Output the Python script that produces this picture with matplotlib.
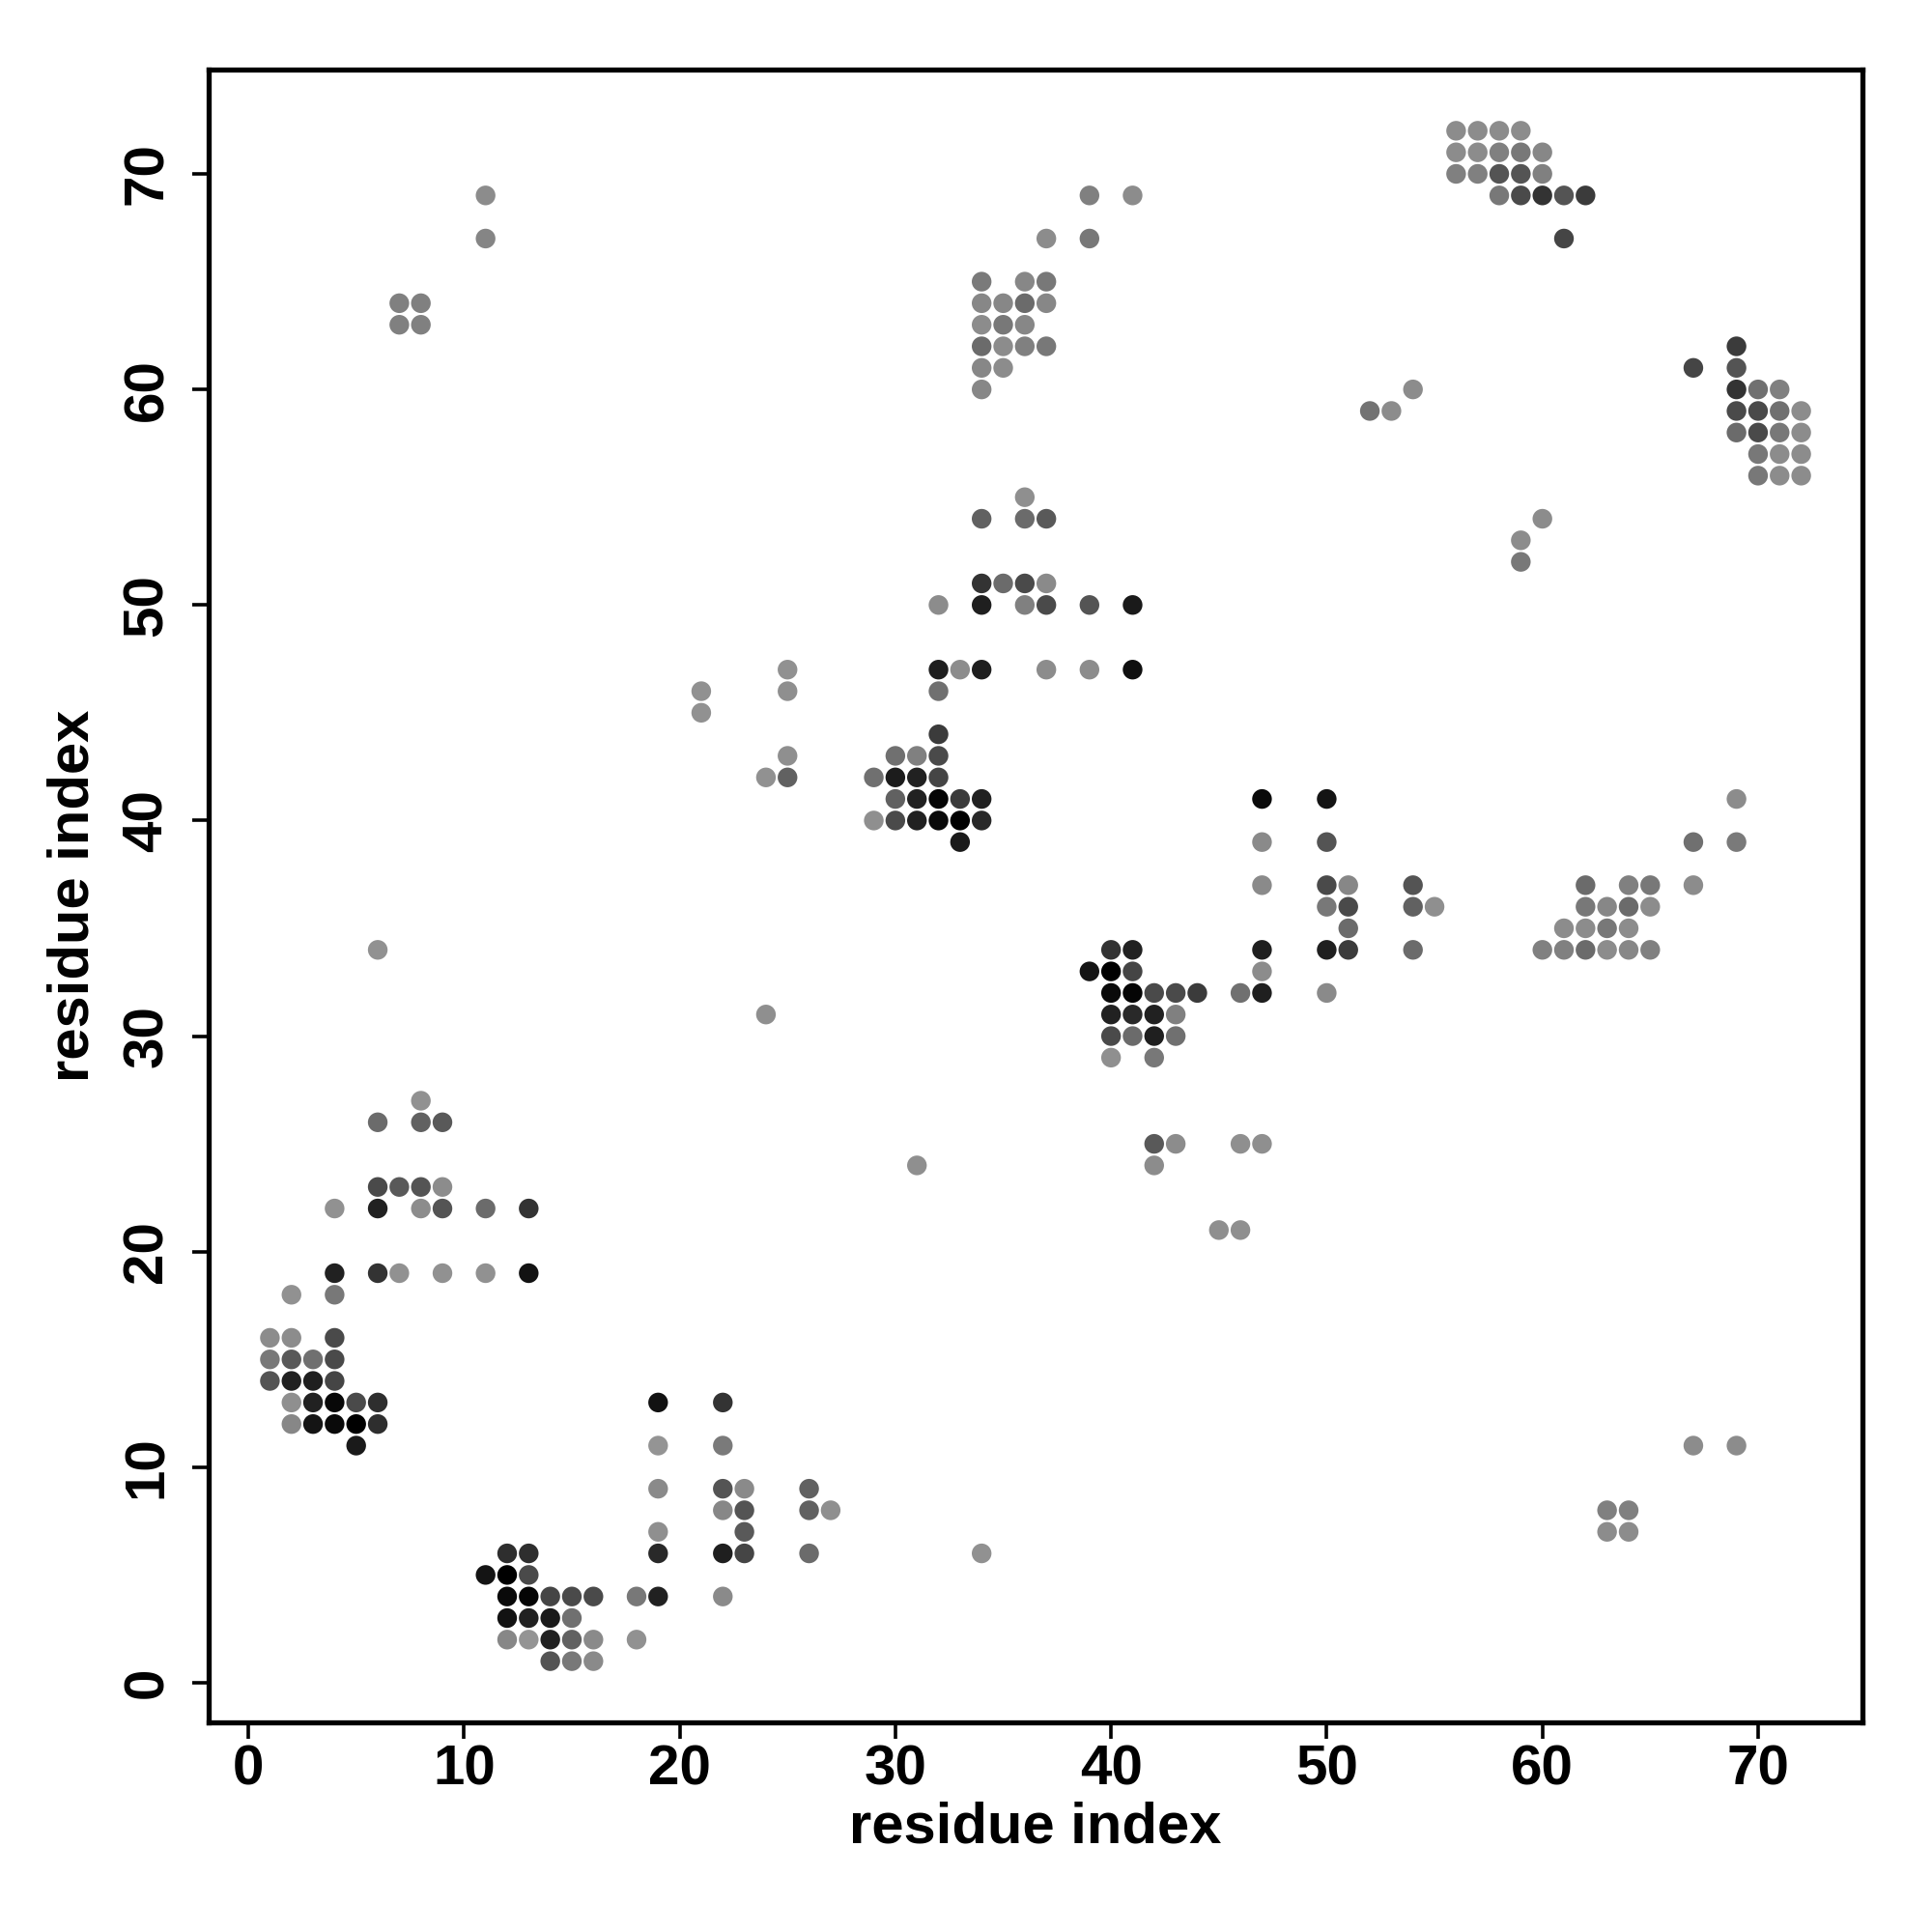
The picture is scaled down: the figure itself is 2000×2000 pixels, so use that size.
import matplotlib
matplotlib.use("Agg")
import matplotlib.pyplot as plt

# residue i (x), residue j (y), grey level of the dot (0 = black, 1 = white)
res_i = [
    2, 4,
    4, 6, 7, 9, 11, 13,
    1, 2, 4,
    1, 2, 3, 4,
    1, 2, 3, 4,
    2, 3, 4, 5, 6,
    2, 3, 4, 5, 6,
    5,
    6, 8,
    6, 8, 9,
    6, 7, 8, 9,
    4, 6, 8, 9, 11, 13,
    7, 8, 7, 8,
    11, 11,
    12, 13,
    11, 12, 13,
    12, 13, 14, 15, 16,
    12, 13, 14, 15,
    12, 13, 14, 15, 16,
    14, 15, 16,
    19, 22,
    19, 22,
    19, 22, 23, 26,
    22, 23, 26, 27,
    19, 23,
    19, 22, 23, 26,
    18, 19, 22,
    18,
    34, 31, 24,
    21, 21,
    25, 25, 25, 24, 25,
    32, 33, 34, 37, 39, 41,
    32,
    32,
    30, 31, 32,
    29, 30, 31, 32,
    30, 31, 32, 33, 34,
    29, 30, 31, 32, 33, 34,
    33,
    36,
    34, 36, 37,
    34, 35, 36, 37,
    32, 34, 36, 37, 39, 41,
    39, 41,
    37, 39,
    34, 36, 37,
    34, 35, 36, 37,
    34, 35, 36,
    34, 35, 36, 37,
    34, 35,
    34,
    40, 41,
    39, 40, 41,
    40, 41, 42, 43, 44, 46, 47,
    40, 41, 42, 43,
    40, 41, 42, 43,
    40, 42,
    42, 43, 46, 47,
    42,
    45, 46,
    47, 50,
    47, 50,
    47, 50, 51, 54,
    50, 51, 54, 55,
    51,
    47, 50, 51, 54,
    47,
    50,
    52, 53, 54,
    59, 59, 60,
    69,
    67, 69,
    62, 64, 65, 67,
    62, 63, 64, 65,
    61, 62, 63, 64,
    60, 61, 62, 63, 64, 65,
    67, 69,
    63, 64, 63, 64,
    56, 57, 58, 59,
    56, 57, 58, 59, 60,
    56, 57, 58, 59, 60,
    58, 59, 60, 61, 62,
    61,
    69,
    67, 69,
    69, 70, 71,
    69, 70, 71, 72,
    69, 70, 71, 72,
    70, 71, 72,
    70, 71, 72,
]

res_j = [
    18, 18,
    19, 19, 19, 19, 19, 19,
    16, 16, 16,
    15, 15, 15, 15,
    14, 14, 14, 14,
    13, 13, 13, 13, 13,
    12, 12, 12, 12, 12,
    11,
    34, 27,
    26, 26, 26,
    23, 23, 23, 23,
    22, 22, 22, 22, 22, 22,
    64, 64, 63, 63,
    69, 67,
    6, 6,
    5, 5, 5,
    4, 4, 4, 4, 4,
    3, 3, 3, 3,
    2, 2, 2, 2, 2,
    1, 1, 1,
    13, 13,
    11, 11,
    9, 9, 9, 9,
    8, 8, 8, 8,
    7, 7,
    6, 6, 6, 6,
    4, 4, 4,
    2,
    6, 24, 31,
    46, 45,
    47, 46, 43, 42, 42,
    47, 47, 47, 47, 47, 47,
    46,
    44,
    43, 43, 43,
    42, 42, 42, 42,
    41, 41, 41, 41, 41,
    40, 40, 40, 40, 40, 40,
    39,
    55,
    54, 54, 54,
    51, 51, 51, 51,
    50, 50, 50, 50, 50, 50,
    69, 69,
    67, 67,
    65, 65, 65,
    64, 64, 64, 64,
    63, 63, 63,
    62, 62, 62, 62,
    61, 61,
    60,
    34, 34,
    33, 33, 33,
    32, 32, 32, 32, 32, 32, 32,
    31, 31, 31, 31,
    30, 30, 30, 30,
    29, 29,
    25, 25, 25, 25,
    24,
    21, 21,
    41, 41,
    39, 39,
    37, 37, 37, 37,
    36, 36, 36, 36,
    35,
    34, 34, 34, 34,
    33,
    32,
    59, 59, 60,
    53, 52, 54,
    41,
    39, 39,
    37, 37, 37, 37,
    36, 36, 36, 36,
    35, 35, 35, 35,
    34, 34, 34, 34, 34, 34,
    11, 11,
    8, 8, 7, 7,
    72, 72, 72, 72,
    71, 71, 71, 71, 71,
    70, 70, 70, 70, 70,
    69, 69, 69, 69, 69,
    67,
    62,
    61, 61,
    60, 60, 60,
    59, 59, 59, 59,
    58, 58, 58, 58,
    57, 57, 57,
    56, 56, 56,
]

gray = [
    .57, .47,
    .13, .20, .57, .57, .57, .07,
    .55, .55, .29,
    .47, .35, .44, .29,
    .33, .13, .12, .27,
    .56, .13, .03, .29, .18,
    .53, .08, .04, .00, .18,
    .10,
    .57, .57,
    .42, .38, .35,
    .29, .35, .33, .55,
    .57, .13, .55, .33, .42, .20,
    .50, .50, .50, .50,
    .55, .52,
    .18, .18,
    .08, .00, .29,
    .04, .02, .27, .29, .29,
    .07, .13, .10, .44,
    .53, .58, .13, .38, .54,
    .33, .47, .54,
    .07, .20,
    .58, .48,
    .54, .33, .54, .38,
    .53, .33, .38, .56,
    .56, .35,
    .16, .12, .27, .42,
    .47, .13, .54,
    .57,
    .57, .56, .56,
    .57, .57,
    .57, .56, .56, .57, .38,
    .12, .55, .12, .55, .55, .06,
    .44,
    .23,
    .44, .50, .29,
    .44, .11, .13, .27,
    .38, .13, .02, .23, .13,
    .56, .29, .13, .04, .00, .16,
    .10,
    .56,
    .38, .42, .35,
    .20, .42, .29, .54,
    .55, .12, .50, .29, .33, .10,
    .50, .55,
    .55, .47,
    .48, .53, .47,
    .53, .53, .42, .53,
    .55, .47, .53,
    .42, .55, .50, .47,
    .53, .55,
    .53,
    .20, .13,
    .08, .00, .27,
    .04, .02, .29, .29, .23, .44, .12,
    .13, .16, .13, .50,
    .29, .42, .12, .44,
    .56, .47,
    .35, .55, .56, .56,
    .55,
    .56, .56,
    .04, .08,
    .54, .33,
    .54, .29, .53, .33,
    .47, .29, .38, .56,
    .42,
    .12, .12, .23, .42,
    .55,
    .54,
    .45, .55, .55,
    .55, .47, .55,
    .55,
    .44, .48,
    .42, .50, .47, .55,
    .47, .53, .42, .55,
    .55, .55, .47, .55,
    .50, .50, .42, .55, .53, .50,
    .55, .55,
    .50, .50, .55, .55,
    .55, .55, .55, .55,
    .55, .55, .50, .47, .53,
    .50, .50, .33, .33, .50,
    .47, .29, .20, .33, .23,
    .27,
    .23,
    .27, .33,
    .20, .44, .50,
    .29, .29, .44, .55,
    .42, .29, .47, .55,
    .47, .55, .55,
    .47, .55, .55,
]

tick_vals = [0, 10, 20, 30, 40, 50, 60, 70]
axis_label = "residue index"

plt.rcParams['font.family'] = ['Liberation Sans', 'DejaVu Sans']

fig = plt.figure(figsize=(20, 20), dpi=100)
ax = fig.add_axes([0.108, 0.1085, 0.856, 0.8555])

colors = [(g, g, g) for g in gray]
ax.scatter(res_i, res_j, s=215, c=colors, linewidths=0, zorder=3)

lo, hi = 1 - 0.04 * 71, 72 + 0.04 * 71
ax.set_xlim(lo, hi)
ax.set_ylim(lo, hi)

ax.set_xticks(tick_vals)
ax.set_yticks(tick_vals)
ax.set_xticklabels([str(v) for v in tick_vals], fontsize=42, fontweight='bold')
ax.set_yticklabels([str(v) for v in tick_vals], fontsize=42, fontweight='bold',
                   rotation=90, va='center')
ax.tick_params(axis='both', direction='out', length=12, width=2.6, colors='black')
ax.tick_params(axis='x', pad=4)
ax.tick_params(axis='y', pad=14)

for sp in ax.spines.values():
    sp.set_linewidth(3.8)
    sp.set_color('black')

ax.set_xlabel(axis_label, fontsize=43, fontweight='bold', labelpad=4)
ax.set_ylabel(axis_label, fontsize=43, fontweight='bold', labelpad=16)

fig.savefig("out.png", dpi=100, facecolor='white')
